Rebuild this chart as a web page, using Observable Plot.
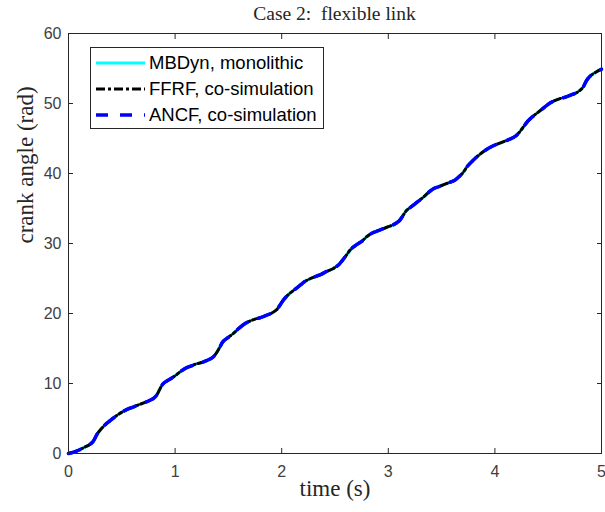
<!DOCTYPE html>
<html>
<head>
<meta charset="utf-8">
<script src="https://cdn.jsdelivr.net/npm/d3@7"></script>
<script src="https://cdn.jsdelivr.net/npm/@observablehq/plot@0.6"></script>
<style>
  html, body { margin: 0; padding: 0; background: #fff; }
  #wrap { position: relative; width: 605px; height: 512px; overflow: hidden; }
  #title { height: 28px; line-height: 28px; font-family: "Liberation Serif", serif; font-size: 19.5px; color: #262626;
           padding-left: 68px; width: 533px; text-align: center; white-space: nowrap; }
  #legend { position: absolute; left: 90px; top: 47px; width: 232px; height: 80px; border: 1px solid #262626;
            background: #fff; font-family: "Liberation Sans", Arial, sans-serif; font-size: 18.5px; color: #000; }
  .row { position: absolute; left: 0; width: 232px; height: 24px; display: flex; align-items: center; white-space: nowrap; }
  .row svg { flex: 0 0 auto; margin-left: 5px; margin-right: 4px; }
</style>
</head>
<body>
<div id="wrap">
  <div id="title">Case 2:&nbsp; flexible link</div>
  <div id="chart"></div>
  <div id="legend"></div>
</div>
<script>
// ---- data ----
const time = [0.00,0.05,0.10,0.15,0.20,0.23,0.27,0.30,0.35,0.40,0.45,0.50,0.55,0.60,0.65,0.70,0.75,0.80,0.83,0.86,0.89,0.95,1.00,1.05,1.10,1.15,1.20,1.25,1.30,1.35,1.38,1.42,1.45,1.50,1.55,1.60,1.65,1.70,1.75,1.80,1.85,1.90,1.95,1.98,2.02,2.07,2.12,2.17,2.22,2.27,2.32,2.37,2.42,2.48,2.53,2.57,2.61,2.65,2.70,2.75,2.80,2.85,2.90,2.95,3.00,3.05,3.10,3.13,3.17,3.22,3.27,3.32,3.37,3.42,3.47,3.52,3.57,3.62,3.66,3.70,3.74,3.79,3.84,3.89,3.94,3.99,4.04,4.09,4.14,4.19,4.23,4.27,4.31,4.36,4.41,4.46,4.51,4.56,4.61,4.66,4.71,4.76,4.80,4.83,4.86,4.90,4.95,5.00];
const angleMBDyn = [0.0,0.2,0.5,0.9,1.3,1.7,2.8,3.4,4.2,4.8,5.4,5.9,6.3,6.6,6.9,7.2,7.5,7.9,8.4,9.3,10.0,10.6,11.1,11.7,12.2,12.5,12.8,13.0,13.3,13.7,14.2,15.2,16.0,16.6,17.2,17.9,18.5,18.9,19.2,19.4,19.7,20.0,20.5,21.1,22.0,22.8,23.4,24.0,24.6,25.0,25.3,25.6,26.0,26.4,26.9,27.6,28.4,29.2,29.8,30.3,31.0,31.5,31.8,32.1,32.4,32.7,33.2,33.8,34.7,35.3,35.9,36.5,37.2,37.8,38.1,38.4,38.7,39.0,39.5,40.1,41.0,41.8,42.5,43.1,43.6,44.0,44.3,44.6,44.9,45.3,45.9,46.7,47.5,48.2,48.8,49.4,50.0,50.4,50.7,50.9,51.2,51.5,51.9,52.4,53.3,54.0,54.5,54.9];
const angleFFRF = angleMBDyn.slice();
const angleANCF = angleMBDyn.slice();
const seriesNames = ["MBDyn, monolithic", "FFRF, co-simulation", "ANCF, co-simulation"];
const xTicks = [0, 1, 2, 3, 4, 5];
const yTicks = [0, 10, 20, 30, 40, 50, 60];

const colors = ["#00FFFF", "#000000", "#0000FF"];
const widths = [3, 3, 3.5];
const dashes = [null, "9,3,3,3", "12,12"];

const series = [angleMBDyn, angleFFRF, angleANCF].map((arr, s) =>
  time.map((t, i) => ({series: seriesNames[s], t, v: arr[i]})));

const axisColor = "#262626";
const tickFont = {fontFamily: "Liberation Sans, Arial, sans-serif", fontSize: 16};
const fmt = d => String(d);

const chart = Plot.plot({
  width: 605,
  height: 484,
  marginTop: 5,
  marginBottom: 59,
  marginLeft: 68,
  marginRight: 4,
  style: {background: "#fff", color: "#404040", overflow: "visible"},
  x: {domain: [0, 5]},
  y: {domain: [0, 60]},
  marks: [
    Plot.axisX({ticks: xTicks, tickFormat: fmt, tickSize: -5, tickPadding: 17, label: null, stroke: axisColor, fill: "#404040", ...tickFont}),
    Plot.axisX({anchor: "top", ticks: xTicks, tickSize: -5, tickFormat: () => "", label: null, stroke: axisColor}),
    Plot.axisY({ticks: yTicks, tickFormat: fmt, tickSize: -5, tickPadding: 12, label: null, stroke: axisColor, fill: "#404040", ...tickFont}),
    Plot.axisY({anchor: "right", ticks: yTicks, tickSize: -5, tickFormat: () => "", label: null, stroke: axisColor}),
    ...series.map((d, s) => Plot.line(d, {
      x: "t", y: "v", stroke: colors[s], strokeWidth: widths[s],
      strokeDasharray: dashes[s], curve: "catmull-rom"
    })),
    Plot.frame({stroke: axisColor, strokeWidth: 1}),
    Plot.text(["time (s)"], {frameAnchor: "bottom", dy: 42, fontSize: 23, fontFamily: "Liberation Serif, serif", fill: "#262626"}),
    Plot.text(["crank angle (rad)"], {frameAnchor: "left", dx: -43, rotate: -90, fontSize: 23, fontFamily: "Liberation Serif, serif", fill: "#262626"})
  ]
});
document.getElementById("chart").appendChild(chart);

// legend (HTML overlay)
const legend = document.getElementById("legend");
const rowTops = [3, 29, 55];
seriesNames.forEach((name, s) => {
  const row = document.createElement("div");
  row.className = "row";
  row.style.top = rowTops[s] + "px";
  const ns = "http://www.w3.org/2000/svg";
  const sw = document.createElementNS(ns, "svg");
  sw.setAttribute("width", 49); sw.setAttribute("height", 10);
  const ln = document.createElementNS(ns, "line");
  ln.setAttribute("x1", 0); ln.setAttribute("x2", 49); ln.setAttribute("y1", 5); ln.setAttribute("y2", 5);
  ln.setAttribute("stroke", colors[s]); ln.setAttribute("stroke-width", widths[s]);
  if (dashes[s]) ln.setAttribute("stroke-dasharray", dashes[s]);
  sw.appendChild(ln);
  row.appendChild(sw);
  const span = document.createElement("span");
  span.textContent = name;
  row.appendChild(span);
  legend.appendChild(row);
});
</script>
</body>
</html>
